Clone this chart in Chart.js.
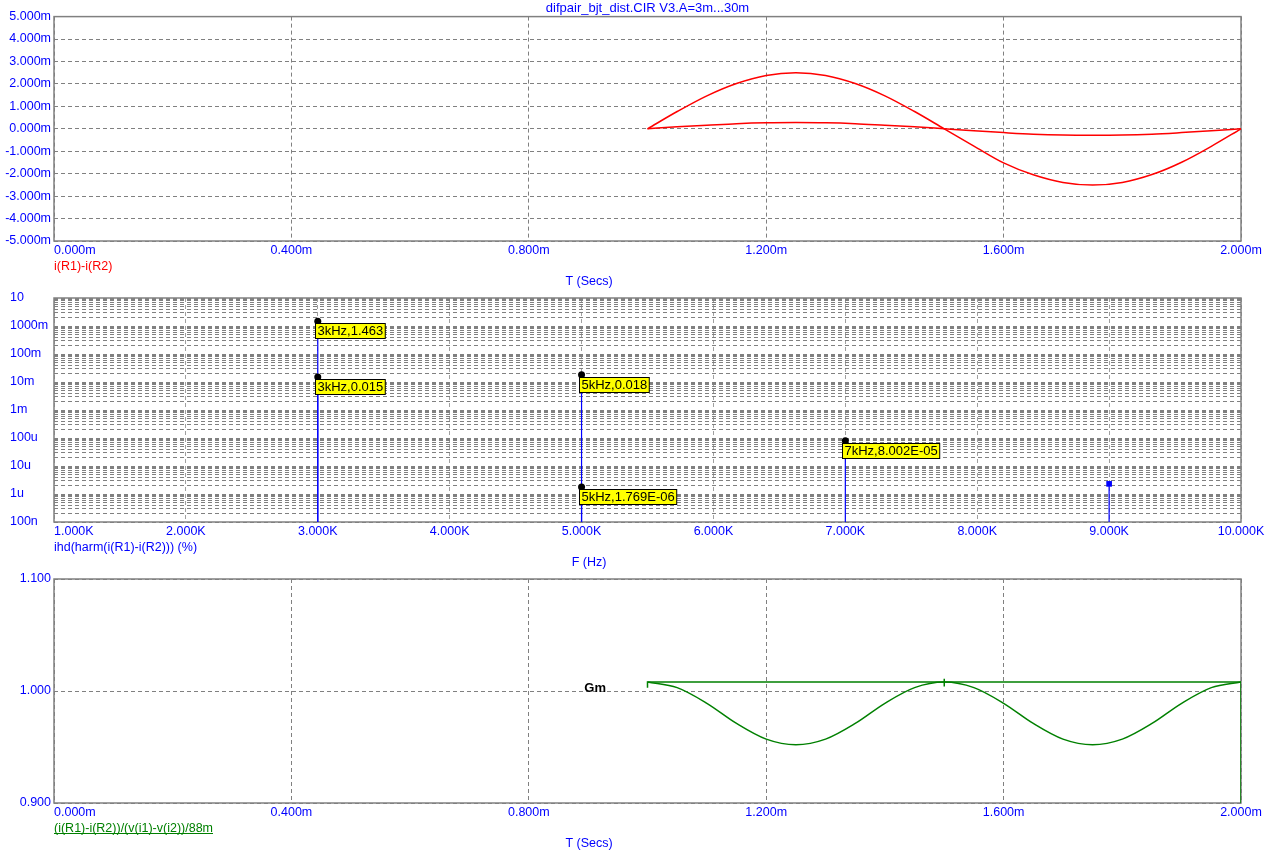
<!DOCTYPE html>
<html lang="en">
<head>
<meta charset="UTF-8">
<title>difpair_bjt_dist</title>
<script src="https://cdn.jsdelivr.net/npm/chart.js"></script>
<style>
  body { margin: 0; background: #ffffff; }
  .painel { position: absolute; left: 0; width: 1276px; }
</style>
</head>
<body>
<div class="painel" style="top:0;height:290px"><canvas id="grafTempo" width="1276" height="290"></canvas></div>
<div class="painel" style="top:290px;height:280px"><canvas id="grafHarm" width="1276" height="280"></canvas></div>
<div class="painel" style="top:570px;height:290px"><canvas id="grafGm" width="1276" height="290"></canvas></div>
<script>
// time samples (ms) for the transient traces
const tempo = [1.00, 1.05, 1.10, 1.15, 1.20, 1.25, 1.30, 1.35, 1.40, 1.45, 1.50,
               1.55, 1.60, 1.65, 1.70, 1.75, 1.80, 1.85, 1.90, 1.95, 2.00];
// i(R1)-i(R2) in mA, V3.A = 30m and 3m
const iGrande = [0, 0.77, 1.47, 2.02, 2.38, 2.50, 2.38, 2.02, 1.47, 0.77, 0,
                 -0.77, -1.52, -2.05, -2.39, -2.51, -2.39, -2.04, -1.49, -0.78, 0];
const iPequeno = [0, 0.09, 0.16, 0.23, 0.27, 0.28, 0.27, 0.23, 0.16, 0.09, 0,
                  -0.09, -0.17, -0.24, -0.28, -0.29, -0.28, -0.24, -0.17, -0.09, 0];

// Gm traces
const gmPlanoT = [1.0, 1.0, 1.5, 1.5, 1.5, 1.5, 2.0, 2.0];
const gmPlano = [1.003, 1.008, 1.008, 1.011, 1.004, 1.008, 1.008, 0.900];
const gmOnda = [1.008, 1.003, 0.989, 0.971, 0.957, 0.952, 0.957, 0.971, 0.989, 1.003, 1.008,
                1.003, 0.989, 0.971, 0.957, 0.952, 0.957, 0.971, 0.989, 1.003, 1.008];

// harmonic distortion (%)
const freqs = [3000, 5000, 7000, 9000];
const ihdAlto = [1.463, 0.018, 8.002e-5, 2.3e-6];
const ihdBaixo = [0.015, 1.769e-6, null, null];
const cursorAlto = ['3kHz,1.463', '5kHz,0.018', '7kHz,8.002E-05', null];
const cursorBaixo = ['3kHz,0.015', '5kHz,1.769E-06', null, null];

// tick labels
const tempoTicks = ['0.000m', '0.400m', '0.800m', '1.200m', '1.600m', '2.000m'];
const freqTicks = ['1.000K', '2.000K', '3.000K', '4.000K', '5.000K', '6.000K', '7.000K', '8.000K', '9.000K', '10.000K'];
const iTicks = ['-5.000m', '-4.000m', '-3.000m', '-2.000m', '-1.000m', '0.000m', '1.000m', '2.000m', '3.000m', '4.000m', '5.000m'];
const decadas = [1e-7, 1e-6, 1e-5, 1e-4, 1e-3, 1e-2, 1e-1, 1, 10];
const ihdTicks = ['100n', '1u', '10u', '100u', '1m', '10m', '100m', '1000m', '10'];
const gmTicks = ['0.900', '1.000', '1.100'];

const FONTE = '"Liberation Sans", Arial, sans-serif';
const AZUL = '#0000ff', CINZA = '#808080';
Chart.defaults.font.family = FONTE;
Chart.defaults.font.size = 12.5;

function eixoX(min, max, passo, altura, corGrade) {
  return {
    type: 'linear', min: min, max: max,
    ticks: { stepSize: passo, display: false },
    grid: { color: corGrade || CINZA, drawTicks: false },
    border: { display: false, dash: [4, 3] },
    afterFit: s => { s.height = altura; }
  };
}

function eixoY(extra, largura) {
  return Object.assign({
    ticks: { color: AZUL, padding: 3 },
    grid: { color: CINZA, drawTicks: false },
    border: { display: false, dash: [4, 3] },
    // fixed width, and no automatic room for the end labels
    afterFit: s => { s.width = largura || 54; s.paddingTop = 0; s.paddingBottom = 0; }
  }, extra);
}

// frame, x labels, trace name and axis name
function decoracao(cfg) {
  return {
    id: 'decoracao',
    beforeDatasetsDraw(chart) {
      const { ctx, chartArea: a } = chart;
      ctx.save();
      ctx.strokeStyle = CINZA;
      ctx.lineWidth = 1.5;
      ctx.strokeRect(a.left, a.top, a.right - a.left, a.bottom - a.top);
      ctx.restore();
    },
    afterDraw(chart) {
      const { ctx, chartArea: a, scales } = chart;
      ctx.save();
      ctx.font = '12.5px ' + FONTE;
      ctx.textBaseline = 'middle';
      ctx.fillStyle = AZUL;
      scales.x.ticks.forEach((t, i) => {
        ctx.textAlign = i === 0 ? 'left' : 'center';
        ctx.fillText(cfg.rotulos[i], scales.x.getPixelForValue(t.value), a.bottom + 9.5);
      });
      ctx.textAlign = 'left';
      ctx.fillStyle = cfg.cor;
      ctx.fillText(cfg.curva, a.left, a.bottom + 25.5);
      if (cfg.sublinhado) {
        const w = ctx.measureText(cfg.curva).width;
        ctx.fillRect(a.left, a.bottom + 30, w, 1);
      }
      ctx.fillStyle = AZUL;
      ctx.textAlign = 'center';
      ctx.fillText(cfg.eixo, 589, a.bottom + 41);
      if (cfg.nota) {
        ctx.font = 'bold 13px ' + FONTE;
        ctx.fillStyle = '#000000';
        ctx.textAlign = 'right';
        ctx.fillText(cfg.nota.texto, scales.x.getPixelForValue(cfg.nota.x), scales.y.getPixelForValue(cfg.nota.y));
      }
      ctx.restore();
    }
  };
}

// yellow cursor boxes on the harmonic plot
const cursores = {
  id: 'cursores',
  afterDatasetsDraw(chart) {
    const ctx = chart.ctx;
    const meta = chart.getDatasetMeta(2);
    ctx.save();
    ctx.font = '13px ' + FONTE;
    ctx.textBaseline = 'middle';
    ctx.textAlign = 'left';
    meta.data.forEach((p, i) => {
      const txt = chart.data.datasets[2].data[i].cursor;
      if (!txt) return;
      const w = ctx.measureText(txt).width + 4;
      const x = Math.round(p.x) - 2.5, y = Math.round(p.y) + 2.5;
      ctx.fillStyle = '#ffff00';
      ctx.fillRect(x, y, w, 15);
      ctx.strokeStyle = '#000000';
      ctx.lineWidth = 1;
      ctx.strokeRect(x, y, w, 15);
      ctx.fillStyle = '#000000';
      ctx.fillText(txt, x + 2, y + 8);
    });
    ctx.restore();
  }
};

// ---- panel 1: i(R1)-i(R2) vs time
new Chart(document.getElementById('grafTempo'), {
  type: 'line',
  data: {
    datasets: [
      { data: tempo.map((t, i) => ({ x: t, y: iGrande[i] })), borderColor: '#ff0000', borderWidth: 1.5, pointRadius: 0, cubicInterpolationMode: 'monotone' },
      { data: tempo.map((t, i) => ({ x: t, y: iPequeno[i] })), borderColor: '#ff0000', borderWidth: 1.5, pointRadius: 0, cubicInterpolationMode: 'monotone' }
    ]
  },
  options: {
    responsive: false, animation: false,
    layout: { padding: { left: 0, right: 35, top: 0, bottom: 0 } },
    plugins: {
      legend: { display: false }, tooltip: { enabled: false },
      title: { display: true, text: 'difpair_bjt_dist.CIR V3.A=3m...30m', color: AZUL, fullSize: false,
               font: { size: 13, weight: 'normal' }, padding: { top: 1, bottom: 0 } }
    },
    scales: {
      x: eixoX(0, 2, 0.4, 49),
      y: eixoY({ min: -5, max: 5, ticks: { stepSize: 1, color: AZUL, padding: 3, callback: (v, i) => iTicks[i] } })
    }
  },
  plugins: [decoracao({ rotulos: tempoTicks, curva: 'i(R1)-i(R2)', cor: '#ff0000', eixo: 'T (Secs)' })]
});

// ---- panel 2: harmonic distortion spectrum
const ihdMin = decadas[0];
const gradeLog = [];
decadas.forEach((d, k) => {
  if (k === decadas.length - 1) { gradeLog.push(d); return; }
  for (let m = 1; m <= 9; m++) gradeLog.push(m === 1 ? d : d * m);
});
function hastes(valores) {
  return freqs.flatMap((f, i) => valores[i] == null ? [] :
    [{ x: f, y: ihdMin }, { x: f, y: valores[i] }, { x: f, y: null }]);
}
const marcas = [];
freqs.forEach((f, i) => {
  if (ihdAlto[i] != null) marcas.push({ x: f, y: ihdAlto[i], cursor: cursorAlto[i] });
  if (ihdBaixo[i] != null) marcas.push({ x: f, y: ihdBaixo[i], cursor: cursorBaixo[i] });
});

new Chart(document.getElementById('grafHarm'), {
  type: 'line',
  data: {
    datasets: [
      { data: hastes(ihdAlto), borderColor: AZUL, borderWidth: 1.2, pointRadius: 0, spanGaps: false, order: 2 },
      { data: hastes(ihdBaixo), borderColor: AZUL, borderWidth: 1.2, pointRadius: 0, spanGaps: false, order: 2 },
      { data: marcas, showLine: false, order: 1,
        pointStyle: c => c.raw && c.raw.cursor ? 'circle' : 'rect',
        pointRadius: c => c.raw && c.raw.cursor ? 3.5 : 4,
        pointBackgroundColor: c => c.raw && c.raw.cursor ? '#000000' : AZUL,
        pointBorderColor: c => c.raw && c.raw.cursor ? '#000000' : AZUL,
        pointBorderWidth: 0 }
    ]
  },
  options: {
    responsive: false, animation: false,
    layout: { padding: { left: 10, right: 35, top: 8, bottom: 0 } },
    plugins: { legend: { display: false }, tooltip: { enabled: false } },
    scales: {
      x: eixoX(1000, 10000, 1000, 48, '#a0a0a0'),
      y: eixoY({
        type: 'logarithmic', min: decadas[0], max: decadas[decadas.length - 1],
        afterBuildTicks: s => { s.ticks = gradeLog.map(v => ({ value: v })); },
        ticks: { color: AZUL, padding: 3, autoSkip: false, crossAlign: 'far',
                 callback: v => { const k = decadas.indexOf(v); return k < 0 ? '' : ihdTicks[k]; } }
      }, 44)
    }
  },
  plugins: [decoracao({ rotulos: freqTicks, curva: 'ihd(harm(i(R1)-i(R2))) (%)', cor: AZUL, eixo: 'F (Hz)' }), cursores]
});

// ---- panel 3: Gm vs time
new Chart(document.getElementById('grafGm'), {
  type: 'line',
  data: {
    datasets: [
      { data: gmPlanoT.map((t, i) => ({ x: t, y: gmPlano[i] })), borderColor: '#008000', borderWidth: 1.5, pointRadius: 0, tension: 0 },
      { data: tempo.map((t, i) => ({ x: t, y: gmOnda[i] })), borderColor: '#008000', borderWidth: 1.5, pointRadius: 0, cubicInterpolationMode: 'monotone' }
    ]
  },
  options: {
    responsive: false, animation: false,
    layout: { padding: { left: 0, right: 35, top: 9, bottom: 0 } },
    plugins: { legend: { display: false }, tooltip: { enabled: false } },
    scales: {
      x: eixoX(0, 2, 0.4, 57),
      y: eixoY({ min: 0.9, max: 1.1, ticks: { stepSize: 0.1, color: AZUL, padding: 3, callback: (v, i) => gmTicks[i] } })
    }
  },
  plugins: [decoracao({ rotulos: tempoTicks, curva: '(i(R1)-i(R2))/(v(i1)-v(i2))/88m', cor: '#008000', sublinhado: true,
                        eixo: 'T (Secs)', nota: { texto: 'Gm', x: 0.93, y: 1.002 } })]
});
</script>
</body>
</html>
